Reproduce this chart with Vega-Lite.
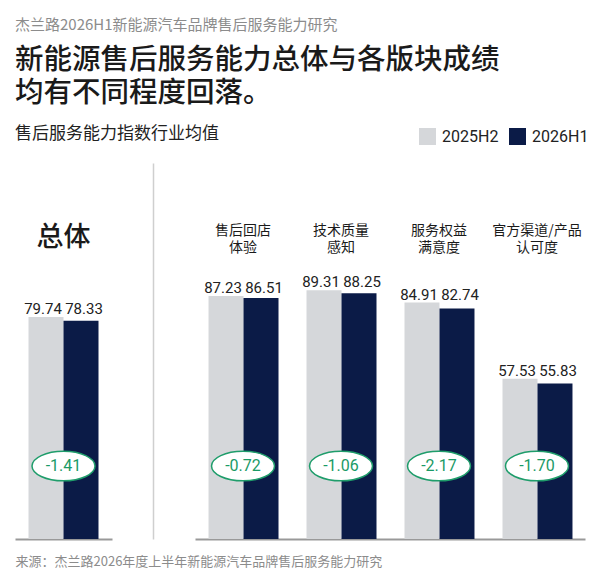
{
  "$schema": "https://vega.github.io/schema/vega-lite/v6.json",
  "background": "white",
  "padding": {"left": 15, "right": 15, "top": 18, "bottom": 8},
  "title": {
    "text": "杰兰路2026H1新能源汽车品牌售后服务能力研究",
    "subtitle": ["新能源售后服务能力总体与各版块成绩", "均有不同程度回落。"],
    "anchor": "start",
    "font": "Noto Sans CJK SC",
    "fontSize": 15,
    "fontWeight": "normal",
    "color": "#8c8c8c",
    "subtitleFont": "Noto Sans CJK SC",
    "subtitleFontSize": 28.5,
    "subtitleFontWeight": 500,
    "subtitleColor": "#1a1a1a",
    "subtitleLineHeight": 32.5,
    "subtitlePadding": 13,
    "offset": 18
  },
  "datasets": {
    "vals": [
      {"cat": "总体", "period": "2025H2", "value": 79.74},
      {"cat": "总体", "period": "2026H1", "value": 78.33},
      {"cat": "售后回店体验", "period": "2025H2", "value": 87.23},
      {"cat": "售后回店体验", "period": "2026H1", "value": 86.51},
      {"cat": "技术质量感知", "period": "2025H2", "value": 89.31},
      {"cat": "技术质量感知", "period": "2026H1", "value": 88.25},
      {"cat": "服务权益满意度", "period": "2025H2", "value": 84.91},
      {"cat": "服务权益满意度", "period": "2026H1", "value": 82.74},
      {"cat": "官方渠道/产品认可度", "period": "2025H2", "value": 57.53},
      {"cat": "官方渠道/产品认可度", "period": "2026H1", "value": 55.83}
    ],
    "cats": [
      {"cat": "总体", "label": "总体", "delta": "-1.41"},
      {"cat": "售后回店体验", "label": "售后回店\n体验", "delta": "-0.72"},
      {"cat": "技术质量感知", "label": "技术质量\n感知", "delta": "-1.06"},
      {"cat": "服务权益满意度", "label": "服务权益\n满意度", "delta": "-2.17"},
      {"cat": "官方渠道/产品认可度", "label": "官方渠道/产品\n认可度", "delta": "-1.70"}
    ]
  },
  "bounds": "flush",
  "spacing": 83,
  "hconcat": [
    {
      "width": 97,
      "height": 376,
      "title": {
        "text": "售后服务能力指数行业均值",
        "anchor": "start",
        "frame": "group",
        "fontSize": 17,
        "fontWeight": "normal",
        "color": "#222222",
        "offset": 20
      },
      "encoding": {
        "x": {
          "field": "cat",
          "type": "nominal",
          "scale": {"paddingInner": 0, "paddingOuter": 0.193},
          "axis": {
            "title": "来源：杰兰路2026年度上半年新能源汽车品牌售后服务能力研究",
            "titleAnchor": "start",
            "titleAlign": "left",
            "titleFontSize": 13,
            "titleFontWeight": "normal",
            "titleColor": "#8c8c8c",
            "titlePadding": 16,
            "labels": false,
            "ticks": false,
            "domainColor": "#999999",
            "domainWidth": 2
          }
        }
      },
      "layer": [
        {
          "data": {"name": "vals"},
          "transform": [{"filter": "datum.cat === '总体'"}],
          "mark": {"type": "bar"},
          "encoding": {
            "xOffset": {"field": "period", "type": "nominal"},
            "y": {"field": "value", "type": "quantitative", "scale": {"domain": [0, 135], "nice": false}, "axis": null},
            "color": {
              "field": "period",
              "type": "nominal",
              "scale": {"domain": ["2025H2", "2026H1"], "range": ["#d5d7da", "#0b1b47"]},
              "legend": {
                "title": null,
                "orient": "none",
                "direction": "horizontal",
                "legendX": 404,
                "legendY": -35,
                "symbolType": "square",
                "symbolSize": 289,
                "symbolStrokeWidth": 0,
                "labelFont": "Roboto",
                "labelFontSize": 16,
                "labelColor": "#222222",
                "labelOffset": 6,
                "columnPadding": 10
              }
            }
          }
        },
        {
          "data": {"name": "vals"},
          "transform": [
            {"filter": "datum.cat === '总体' && datum.period === '2025H2'"}
          ],
          "mark": {"type": "text", "baseline": "alphabetic", "dy": -3, "dx": -3, "font": "Roboto", "fontSize": 15, "color": "#222222"},
          "encoding": {
            "xOffset": {"field": "period", "type": "nominal"},
            "y": {"field": "value", "type": "quantitative"},
            "text": {"field": "value", "type": "quantitative", "format": ".2f"}
          }
        },
        {
          "data": {"name": "vals"},
          "transform": [
            {"filter": "datum.cat === '总体'"},
            {"joinaggregate": [{"op": "max", "field": "value", "as": "top"}], "groupby": ["cat"]},
            {"filter": "datum.period === '2026H1'"}
          ],
          "mark": {"type": "text", "baseline": "alphabetic", "dy": -3, "dx": 3, "font": "Roboto", "fontSize": 15, "color": "#222222"},
          "encoding": {
            "xOffset": {"field": "period", "type": "nominal"},
            "y": {"field": "top", "type": "quantitative"},
            "text": {"field": "value", "type": "quantitative", "format": ".2f"}
          }
        },
        {
          "data": {"name": "cats"},
          "transform": [{"filter": "datum.cat === '总体'"}],
          "mark": {"type": "text", "baseline": "middle", "fontSize": 27, "fontWeight": 500, "color": "#1a1a1a"},
          "encoding": {
            "y": {"datum": 108.2, "type": "quantitative"},
            "text": {"field": "label"}
          }
        },
        {
          "data": {"name": "cats"},
          "transform": [{"filter": "datum.cat === '总体'"}],
          "mark": {
            "type": "point",
            "shape": "M-1,0A1,0.47,0,1,0,1,0A1,0.47,0,1,0,-1,0Z",
            "size": 3969,
            "filled": true,
            "fill": "white",
            "stroke": "#1f9d6b",
            "strokeWidth": 1.5,
            "opacity": 1
          },
          "encoding": {
            "y": {"datum": 26.2, "type": "quantitative"}
          }
        },
        {
          "data": {"name": "cats"},
          "transform": [{"filter": "datum.cat === '总体'"}],
          "mark": {"type": "text", "baseline": "middle", "font": "Roboto", "fontSize": 16, "color": "#1a9a66"},
          "encoding": {
            "y": {"datum": 26.2, "type": "quantitative"},
            "text": {"field": "delta", "type": "nominal"}
          }
        }
      ]
    },
    {
      "width": 390,
      "height": 376,
      "encoding": {
        "x": {
          "field": "cat",
          "type": "nominal",
          "sort": ["售后回店体验", "技术质量感知", "服务权益满意度", "官方渠道/产品认可度"],
          "scale": {"paddingInner": 0.296, "paddingOuter": 0.138},
          "axis": {
            "title": null,
            "labels": false,
            "ticks": false,
            "domainColor": "#999999",
            "domainWidth": 2
          }
        }
      },
      "layer": [
        {
          "data": {"name": "vals"},
          "transform": [{"filter": "datum.cat !== '总体'"}],
          "mark": {"type": "bar"},
          "encoding": {
            "xOffset": {"field": "period", "type": "nominal"},
            "y": {
              "field": "value",
              "type": "quantitative",
              "scale": {"domain": [0, 135], "nice": false},
              "axis": {
                "title": null,
                "labels": false,
                "ticks": false,
                "grid": false,
                "offset": 42,
                "domainColor": "#cfcfcf",
                "domainWidth": 1.5
              }
            },
            "color": {
              "field": "period",
              "type": "nominal",
              "scale": {"domain": ["2025H2", "2026H1"], "range": ["#d5d7da", "#0b1b47"]},
              "legend": {
                "title": null,
                "orient": "none",
                "direction": "horizontal",
                "legendX": 404,
                "legendY": -35,
                "symbolType": "square",
                "symbolSize": 289,
                "symbolStrokeWidth": 0,
                "labelFont": "Roboto",
                "labelFontSize": 16,
                "labelColor": "#222222",
                "labelOffset": 6,
                "columnPadding": 10
              }
            }
          }
        },
        {
          "data": {"name": "vals"},
          "transform": [
            {"filter": "datum.cat !== '总体' && datum.period === '2025H2'"}
          ],
          "mark": {"type": "text", "baseline": "alphabetic", "dy": -3, "dx": -3, "font": "Roboto", "fontSize": 15, "color": "#222222"},
          "encoding": {
            "xOffset": {"field": "period", "type": "nominal"},
            "y": {"field": "value", "type": "quantitative"},
            "text": {"field": "value", "type": "quantitative", "format": ".2f"}
          }
        },
        {
          "data": {"name": "vals"},
          "transform": [
            {"filter": "datum.cat !== '总体'"},
            {"joinaggregate": [{"op": "max", "field": "value", "as": "top"}], "groupby": ["cat"]},
            {"filter": "datum.period === '2026H1'"}
          ],
          "mark": {"type": "text", "baseline": "alphabetic", "dy": -3, "dx": 3, "font": "Roboto", "fontSize": 15, "color": "#222222"},
          "encoding": {
            "xOffset": {"field": "period", "type": "nominal"},
            "y": {"field": "top", "type": "quantitative"},
            "text": {"field": "value", "type": "quantitative", "format": ".2f"}
          }
        },
        {
          "data": {"name": "cats"},
          "transform": [{"filter": "datum.cat !== '总体'"}],
          "mark": {"type": "text", "baseline": "middle", "lineBreak": "\n", "lineHeight": 17.5, "fontSize": 14, "color": "#1a1a1a"},
          "encoding": {
            "y": {"datum": 110.6, "type": "quantitative"},
            "text": {"field": "label"}
          }
        },
        {
          "data": {"name": "cats"},
          "transform": [{"filter": "datum.cat !== '总体'"}],
          "mark": {
            "type": "point",
            "shape": "M-1,0A1,0.47,0,1,0,1,0A1,0.47,0,1,0,-1,0Z",
            "size": 3969,
            "filled": true,
            "fill": "white",
            "stroke": "#1f9d6b",
            "strokeWidth": 1.5,
            "opacity": 1
          },
          "encoding": {
            "y": {"datum": 26.2, "type": "quantitative"}
          }
        },
        {
          "data": {"name": "cats"},
          "transform": [{"filter": "datum.cat !== '总体'"}],
          "mark": {"type": "text", "baseline": "middle", "font": "Roboto", "fontSize": 16, "color": "#1a9a66"},
          "encoding": {
            "y": {"datum": 26.2, "type": "quantitative"},
            "text": {"field": "delta", "type": "nominal"}
          }
        }
      ]
    }
  ],
  "config": {
    "font": "Noto Sans CJK SC",
    "view": {"stroke": null}
  }
}
